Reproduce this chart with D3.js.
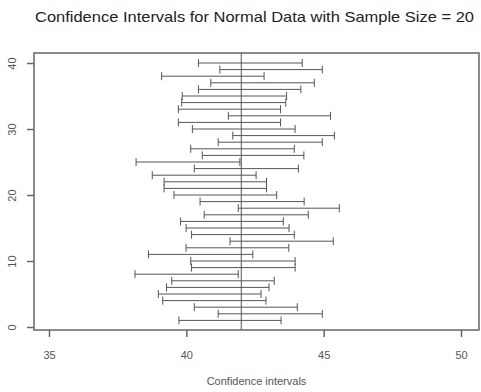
<!DOCTYPE html>
<html>
<head>
<meta charset="utf-8">
<script src="https://cdn.jsdelivr.net/npm/d3@7"></script>
<style>
body { margin: 0; background: white; }
text { font-family: "Liberation Sans", Arial, sans-serif; }
</style>
</head>
<body>
<div id="chart"></div>
<script>
var w = 481, h = 392;

// interval number 1..40, lower and upper bounds
var sample = d3.range(1, 41);
var lower = [39.73, 41.16, 40.29, 39.14, 38.98, 39.28, 39.47, 38.13, 40.19, 40.16,
             38.62, 39.99, 41.59, 40.19, 39.99, 39.79, 40.65, 41.89, 40.50, 39.55,
             39.19, 39.19, 38.76, 40.29, 38.17, 40.58, 40.16, 41.16, 41.69, 40.22,
             39.71, 41.53, 39.71, 39.83, 39.85, 40.44, 40.89, 39.10, 41.22, 40.44];
var upper = [43.45, 44.95, 44.04, 42.90, 42.72, 43.01, 43.20, 41.89, 43.96, 43.96,
             42.42, 43.73, 45.35, 43.93, 43.74, 43.53, 44.44, 45.57, 44.29, 43.29,
             42.92, 42.92, 42.54, 44.08, 41.95, 44.28, 43.93, 44.95, 45.39, 43.96,
             43.43, 45.25, 43.43, 43.62, 43.65, 44.17, 44.66, 42.83, 44.95, 44.22];
var trueMean = 42;
var xTicks = [35, 40, 45, 50];
var yTicks = [0, 10, 20, 30, 40];

var svg = d3.select("#chart").append("svg").attr("width", w).attr("height", h);

var box = {left: 34, right: 479, top: 53, bottom: 330};
var x = d3.scaleLinear().domain([35, 50]).range([49, 461]);
var y = d3.scaleLinear().domain([0, 40]).range([327, 63]);

var axisCol = "#666", lineCol = "#555";

// intervals
var g = svg.append("g");
sample.forEach(function (d, i) {
    var yy = y(d);
    g.append("line").attr("x1", x(lower[i])).attr("x2", x(upper[i]))
        .attr("y1", yy).attr("y2", yy).attr("stroke", lineCol).attr("stroke-width", 1);
    [lower[i], upper[i]].forEach(function (v) {
        g.append("line").attr("x1", x(v)).attr("x2", x(v))
            .attr("y1", yy - 4).attr("y2", yy + 4).attr("stroke", lineCol).attr("stroke-width", 1);
    });
});

// true mean
svg.append("line").attr("x1", x(trueMean)).attr("x2", x(trueMean))
    .attr("y1", box.top).attr("y2", box.bottom).attr("stroke", lineCol).attr("stroke-width", 1);

// box
svg.append("rect").attr("x", box.left).attr("y", box.top)
    .attr("width", box.right - box.left).attr("height", box.bottom - box.top)
    .attr("fill", "none").attr("stroke", axisCol).attr("stroke-width", 1.5);

// x axis
var xa = svg.append("g").attr("transform", "translate(0," + box.bottom + ")")
    .call(d3.axisBottom(x).tickValues(xTicks).tickSize(7).tickFormat(d3.format("d")));
xa.select(".domain").remove();
xa.selectAll("line").attr("stroke", axisCol).attr("stroke-width", 1.5);
xa.selectAll("text").attr("y", 25).attr("dy", "0.35em")
    .attr("fill", "#555").style("font-size", "11px").style("font-family", "Liberation Sans, Arial, sans-serif");

// y axis
var ya = svg.append("g").attr("transform", "translate(" + box.left + ",0)")
    .call(d3.axisLeft(y).tickValues(yTicks).tickSize(7).tickFormat(d3.format("d")));
ya.select(".domain").remove();
ya.selectAll("line").attr("stroke", axisCol).attr("stroke-width", 1.5);
ya.selectAll("text").attr("x", null).attr("dy", null)
    .attr("text-anchor", "middle")
    .attr("transform", "translate(-22,0) rotate(-90)").attr("dy", "0.35em")
    .attr("fill", "#555").style("font-size", "11px").style("font-family", "Liberation Sans, Arial, sans-serif");

// title and label
svg.append("text").attr("x", 35).attr("y", 22)
    .attr("fill", "#222")
    .attr("textLength", 439).attr("lengthAdjust", "spacingAndGlyphs")
    .style("font-size", "15px")
    .text("Confidence Intervals for Normal Data with Sample Size = 20");

svg.append("text").attr("x", (box.left + box.right) / 2).attr("y", 385)
    .attr("text-anchor", "middle").attr("fill", "#555").style("font-size", "11px")
    .text("Confidence intervals");
</script>
</body>
</html>
